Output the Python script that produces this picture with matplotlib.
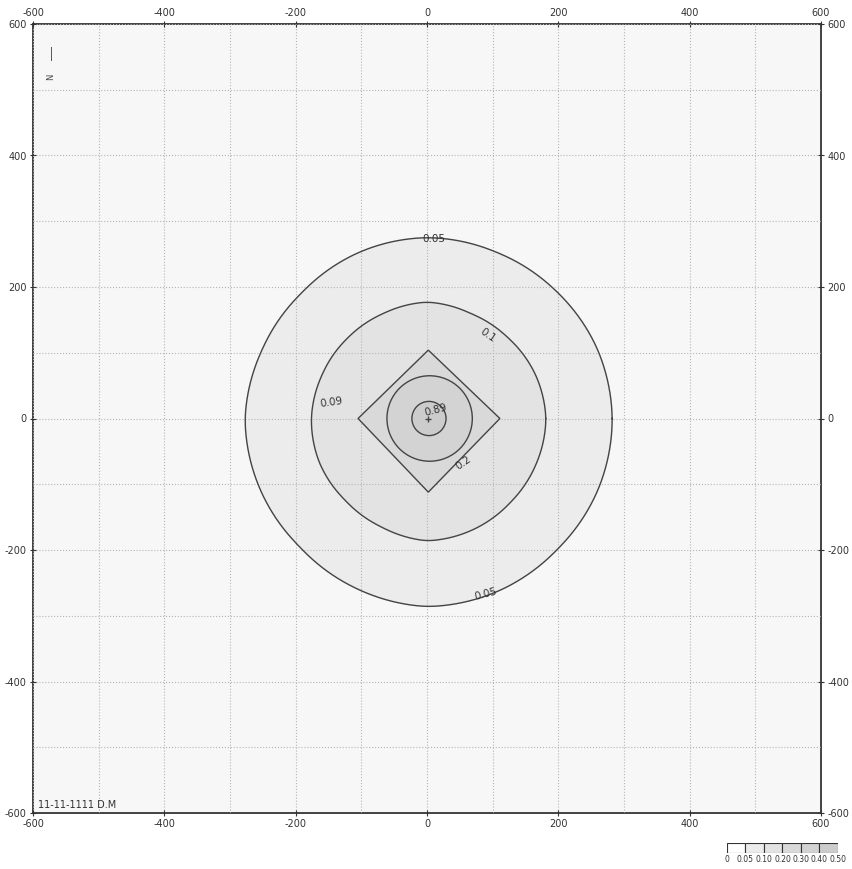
import numpy as np
import matplotlib
matplotlib.use("Agg")
import matplotlib.pyplot as plt
from matplotlib.patches import Circle, Polygon

plt.rcParams['axes.unicode_minus'] = False
plt.rcParams['font.family'] = ['DejaVu Sans']

# niveaux de la legende et couleurs de remplissage
niveaux = [0, 0.05, 0.10, 0.20, 0.30, 0.40, 0.50]
niveaux_txt = ["0", "0.05", "0.10", "0.20", "0.30", "0.40", "0.50"]
couleurs = ["#ffffff", "#ececec", "#e3e3e3", "#d9d9d9", "#d3d3d3", "#cccccc"]

# contours : rayon (m) tous les 22.5 degres
angles = [0, 22.5, 45, 67.5, 90, 112.5, 135, 157.5, 180,
          202.5, 225, 247.5, 270, 292.5, 315, 337.5]
rayons_005 = [282, 280, 276, 274, 275, 273, 270, 272, 277,
              276, 275, 280, 286, 284, 281, 282]
rayons_01 = [181, 178, 174, 173, 177, 173, 172, 173, 176,
             177, 176, 179, 186, 183, 180, 180]

# contour 0.2 en losange (sommets)
losange_x = [111, 2, -105, 2]
losange_y = [0, 104, 0, -112]

# cercles interieurs : niveau, centre x, centre y, rayon
cercles_niv = [0.30, 0.40]
cercles_cx = [4, 3]
cercles_cy = [0, 0]
cercles_r = [65, 26]

# etiquettes des contours
etiq_txt = ["0.05", "0.05", "0.1", "0.09", "0.2", "0.89"]
etiq_x = [10, 90, 92, -146, 55, 14]
etiq_y = [273, -267, 127, 24, -68, 13]
etiq_rot = [0, 15, -35, 8, 35, 15]

ticks = list(range(-600, 601, 200))
grille = list(range(-600, 601, 100))


def polaire(rayons):
    # trace lisse du contour a partir des rayons lus
    th = np.arange(0, 360, 0.5)
    r = np.interp(th, angles, rayons, period=360)
    k = 15
    r = np.convolve(np.concatenate([r[-k:], r, r[:k]]), np.ones(k) / k, mode="same")[k:-k]
    th = np.append(th, 360)
    r = np.append(r, r[0])
    return r * np.cos(np.radians(th)), r * np.sin(np.radians(th))


fig = plt.figure(figsize=(8.53, 8.69), dpi=100)
ax = fig.add_axes([33 / 853, 56 / 869, 788 / 853, 789 / 869])
ax.set_xlim(-600, 600)
ax.set_ylim(-600, 600)
ax.set_facecolor("#f7f7f7")

# remplissages
x1, y1 = polaire(rayons_005)
ax.fill(x1, y1, color=couleurs[1], zorder=1)
x2, y2 = polaire(rayons_01)
ax.fill(x2, y2, color=couleurs[2], zorder=1)
ax.add_patch(Polygon(np.column_stack([losange_x, losange_y]), closed=True,
                     facecolor=couleurs[3], edgecolor="#444444", lw=1.0, zorder=3))
for i in range(len(cercles_r)):
    k = niveaux.index(cercles_niv[i])
    ax.add_patch(Circle((cercles_cx[i], cercles_cy[i]), cercles_r[i],
                        facecolor=couleurs[k], edgecolor="#444444", lw=1.0, zorder=3))

# lignes de contour
ax.plot(x1, y1, color="#444444", lw=1.0, zorder=3)
ax.plot(x2, y2, color="#444444", lw=1.0, zorder=3)
ax.plot([1], [0], marker="+", color="#444444", ms=5, zorder=4)

for t, x, y, r in zip(etiq_txt, etiq_x, etiq_y, etiq_rot):
    ax.text(x, y, t, rotation=r, fontsize=7.5, color="#333333",
            ha="center", va="center", zorder=5)

# grille et axes
ax.set_xticks(ticks)
ax.set_yticks(ticks)
ax.set_xticks(grille, minor=True)
ax.set_yticks(grille, minor=True)
ax.set_axisbelow(False)
ax.grid(which="both", ls=":", color="#b5b5b5", lw=0.8)
ax.tick_params(which="major", top=True, right=True, labeltop=True, labelright=True,
               direction="inout", length=5, width=0.8, labelsize=7,
               colors="#333333", pad=2)
ax.tick_params(which="minor", length=0)
for s in ax.spines.values():
    s.set_color("#333333")
    s.set_linewidth(1.3)

ax.text(-593, -588, "11-11-1111 D.M", fontsize=7, color="#333333",
        ha="left", va="center")
# fleche du nord
ax.plot([-573, -573], [545, 565], color="#555555", lw=0.7)
ax.text(-573, 520, "N", rotation=90, fontsize=6, color="#444444",
        ha="center", va="center")

# legende en bas a droite
lg = fig.add_axes([727 / 853, 16 / 869, 111 / 853, 10 / 869])
pos = np.arange(len(couleurs))
lg.bar(pos, [1] * len(couleurs), width=1, align="edge", color=couleurs,
       edgecolor="#333333", lw=0.8)
lg.set_xlim(0, len(couleurs))
lg.set_ylim(0, 1)
lg.set_xticks(np.arange(len(niveaux)))
lg.set_xticklabels(niveaux_txt)
lg.set_yticks([])
lg.tick_params(axis="x", length=0, labelsize=5.5, pad=1.5, colors="#333333")
for s in lg.spines.values():
    s.set_visible(False)

plt.savefig("out.png", dpi=100)
